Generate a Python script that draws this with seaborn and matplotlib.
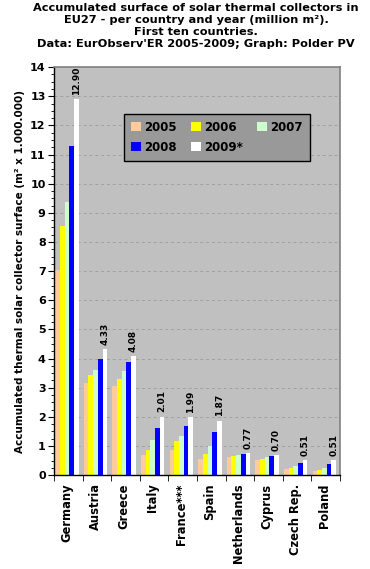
import matplotlib
matplotlib.use("Agg")
import matplotlib.pyplot as plt
from matplotlib.ticker import MultipleLocator, FixedLocator
import pandas as pd
import seaborn as sns

countries = ['Germany', 'Austria', 'Greece', 'Italy', 'France***', 'Spain',
             'Netherlands', 'Cyprus', 'Czech Rep.', 'Poland']
years = ['2005', '2006', '2007', '2008', '2009*']

v2005 = [7.03, 3.15, 3.05, 0.68, 0.86, 0.55, 0.62, 0.51, 0.21, 0.14]
v2006 = [8.56, 3.42, 3.29, 0.86, 1.16, 0.72, 0.65, 0.55, 0.24, 0.17]
v2007 = [9.38, 3.60, 3.57, 1.20, 1.33, 0.99, 0.68, 0.61, 0.31, 0.24]
v2008 = [11.30, 3.97, 3.87, 1.61, 1.68, 1.47, 0.72, 0.65, 0.41, 0.38]
v2009 = [12.90, 4.33, 4.08, 2.01, 1.99, 1.87, 0.77, 0.70, 0.51, 0.51]

colors = {'2005': '#FFCC99', '2006': '#FFFF00', '2007': '#CCFFCC',
          '2008': '#0000FF', '2009*': '#FFFFFF'}

rows = []
for yr, vals in zip(years, [v2005, v2006, v2007, v2008, v2009]):
    for c, v in zip(countries, vals):
        rows.append((c, yr, v))
df = pd.DataFrame(rows, columns=['country', 'year', 'value'])

sns.set_style("white")
plt.rcParams['font.family'] = ['DejaVu Sans']
plt.rcParams['text.color'] = 'black'
plt.rcParams['axes.labelcolor'] = 'black'
plt.rcParams['xtick.color'] = 'black'
plt.rcParams['ytick.color'] = 'black'

fig = plt.figure(figsize=(3.70, 5.69), dpi=100)
ax = fig.add_axes([0.146, 0.165, 0.773, 0.717])
ax.set_facecolor('#C0C0C0')

sns.barplot(data=df, x='country', y='value', hue='year', order=countries,
            hue_order=years, palette=colors, saturation=1, width=0.82,
            linewidth=0, ax=ax, errorbar=None)

ax.set_ylim(0, 14)
ax.set_xlim(-0.45, 9.55)
ax.yaxis.set_major_locator(MultipleLocator(1))
ax.yaxis.set_minor_locator(MultipleLocator(0.25))
for y in range(1, 14):
    ax.axhline(y, color='#A0A0A0', linestyle=(0, (3, 3)), linewidth=0.7, zorder=0)
ax.set_axisbelow(True)

ax.xaxis.set_minor_locator(FixedLocator([i + 0.55 for i in range(-1, 10)]))
ax.tick_params(axis='x', which='major', length=0, pad=6)
ax.tick_params(axis='x', which='minor', length=4, color='black', bottom=True)
ax.tick_params(axis='y', which='major', length=4, color='black', left=True, pad=2)
ax.tick_params(axis='y', which='minor', length=2, color='black', left=True)
ax.set_xticks(range(len(countries)))
ax.set_xticklabels(countries, rotation=90, fontsize=8.3, fontweight='bold', color='black')
for lab in ax.get_yticklabels():
    lab.set_fontweight('bold')
    lab.set_fontsize(8)
    lab.set_color('black')

for side in ['left', 'bottom']:
    ax.spines[side].set_color('black')
    ax.spines[side].set_linewidth(1)
for side in ['top', 'right']:
    ax.spines[side].set_color('#808080')
    ax.spines[side].set_linewidth(1.2)

# value labels above the 2009 bars
off = (4 - 2) * 0.82 / 5
for i, v in enumerate(v2009):
    ax.annotate(f'{v:.2f}', (i + off, v), xytext=(0, 3), textcoords='offset points',
                rotation=90, ha='center', va='bottom', fontsize=6.5, fontweight='bold',
                color='black')

ax.set_xlabel('')
ax.set_ylabel('Accumulated thermal solar collector surface (m² x 1.000.000)',
              fontsize=7.5, fontweight='bold', labelpad=4, color='black')

# row-wise legend order
handles, labels = ax.get_legend_handles_labels()
order = [0, 3, 1, 4, 2]
leg = ax.legend([handles[i] for i in order], [labels[i] for i in order],
                ncol=3, loc='upper left', bbox_to_anchor=(0.225, 0.9),
                frameon=True, fancybox=False, facecolor='#999999', edgecolor='black',
                framealpha=1, handlelength=0.8, handleheight=0.8, handletextpad=0.3,
                columnspacing=1.2, labelspacing=0.6, borderpad=0.6,
                prop={'weight': 'bold', 'size': 8.5})
for t in leg.get_texts():
    t.set_color('black')

fig.suptitle('Accumulated surface of solar thermal collectors in\n'
             'EU27 - per country and year (million m²).\n'
             'First ten countries.\n'
             "Data: EurObserv'ER 2005-2009; Graph: Polder PV",
             x=0.53, y=0.995, fontsize=8.2, fontweight='bold', linespacing=1.25,
             color='black')

fig.savefig('out.png', dpi=100, facecolor='white')
